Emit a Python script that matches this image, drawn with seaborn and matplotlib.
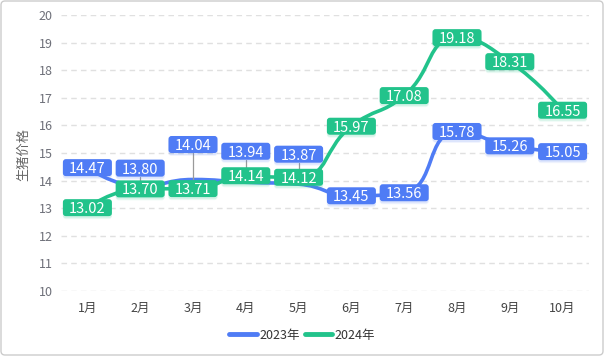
import numpy as np
import pandas as pd
import matplotlib
matplotlib.use('Agg')
import matplotlib.pyplot as plt
import seaborn as sns
from matplotlib.path import Path
from matplotlib.patches import PathPatch, FancyBboxPatch
from matplotlib.lines import Line2D
from matplotlib.transforms import IdentityTransform

# ---------------- data ----------------
months = ['1月', '2月', '3月', '4月', '5月', '6月', '7月', '8月', '9月', '10月']
series_names = ['2023年', '2024年']
price_2023 = [14.47, 13.80, 14.04, 13.94, 13.87, 13.45, 13.56, 15.78, 15.26, 15.05]
price_2024 = [13.02, 13.70, 13.71, 14.14, 14.12, 15.97, 17.08, 19.18, 18.31, 16.55]
y_ticks = [10, 11, 12, 13, 14, 15, 16, 17, 18, 19, 20]
y_title = '生猪价格'

# label layout (pixel shifts to avoid overlaps, like echarts moveOverlap)
label_shift_2023 = [0, 18, 35, 31, 30, 0, 0, 0, 0, 0]
label_shift_2024 = [0, 0, 0, 1, 0, 0, 0, 0, 0, 0]
colors = ['#4f7cf5', '#22c38b']

# ---------------- figure ----------------
sns.set_theme(style='white')
plt.rcParams['font.family'] = ['Noto Sans CJK SC', 'DejaVu Sans']

W, H = 604, 356
fig = plt.figure(figsize=(W / 100, H / 100), dpi=100)
fig.patch.set_facecolor('white')
ax = fig.add_axes([61 / W, 65 / H, 528 / W, 276 / H])

df = pd.DataFrame({
    'pos': list(range(len(months))) * 2,
    'price': price_2023 + price_2024,
    'series': [series_names[0]] * len(months) + [series_names[1]] * len(months),
})
sns.lineplot(data=df, x='pos', y='price', hue='series', palette=colors,
             linewidth=2.6, ax=ax, legend=False)
for ln in ax.lines:
    ln.set_visible(False)

ax.set_xlim(-0.5, len(months) - 0.5)
ax.set_ylim(y_ticks[0], y_ticks[-1])
ax.set_yticks(y_ticks)
ax.set_xticks(range(len(months)))
ax.set_xticklabels(months)
ax.set_xlabel('')
ax.set_ylabel('')
for s in ax.spines.values():
    s.set_visible(False)
ax.grid(axis='y', linestyle=(0, (4, 3)), color='#e0e0e0', linewidth=1)
ax.grid(axis='x', visible=False)
ax.tick_params(axis='y', length=0, pad=6, labelsize=9, labelcolor='#6e7079')
ax.tick_params(axis='x', length=0, pad=8, labelsize=9, labelcolor='#444444')


def smooth_path(pts, smooth=0.5):
    verts = [tuple(pts[0])]
    codes = [Path.MOVETO]
    cp0 = tuple(pts[0])
    n = len(pts)
    for i in range(1, n):
        x, y = pts[i]
        px, py = pts[i - 1]
        if i == n - 1:
            cp1 = (x, y)
            ncp0 = None
        else:
            nx, ny = pts[i + 1]
            vx, vy = nx - px, ny - py
            lp = np.hypot(x - px, y - py)
            lnn = np.hypot(nx - x, ny - y)
            r = lnn / (lnn + lp)
            ncx = x + vx * smooth * r
            ncy = y + vy * smooth * r
            ncx = max(min(ncx, max(nx, x)), min(nx, x))
            ncy = max(min(ncy, max(ny, y)), min(ny, y))
            vx, vy = ncx - x, ncy - y
            c1x = x - vx * lp / lnn
            c1y = y - vy * lp / lnn
            c1x = max(min(c1x, max(px, x)), min(px, x))
            c1y = max(min(c1y, max(py, y)), min(py, y))
            vx, vy = x - c1x, y - c1y
            ncx = x + vx * lnn / lp
            ncy = y + vy * lnn / lp
            cp1 = (c1x, c1y)
            ncp0 = (ncx, ncy)
        verts += [cp0, cp1, (x, y)]
        codes += [Path.CURVE4] * 3
        cp0 = ncp0
    return verts, codes


inv = ax.transData.inverted()
series = [price_2023, price_2024]
shifts = [label_shift_2023, label_shift_2024]

for vals, col in zip(series, colors):
    pts = ax.transData.transform(np.column_stack([np.arange(len(vals)), vals]))
    verts, codes = smooth_path(pts)
    verts_d = inv.transform(np.array(verts))
    ax.add_patch(PathPatch(Path(verts_d, codes), facecolor='none', edgecolor=col,
                           linewidth=2.6, zorder=3, capstyle='round', joinstyle='round'))

# labels
BW, BH = 49, 17
ident = IdentityTransform()
for vals, col, sh in zip(series, colors, shifts):
    pts = ax.transData.transform(np.column_stack([np.arange(len(vals)), vals]))
    for (cx, py), v, s in zip(pts, vals, sh):
        cy = py + s
        if s > 4:
            fig.add_artist(Line2D([cx, cx], [py, cy - BH / 2], color='#9a9a9a',
                                  linewidth=0.9, transform=ident, zorder=4))
        for k, a in [(3, 0.08), (2, 0.12)]:
            fig.add_artist(FancyBboxPatch((cx - BW / 2, cy - BH / 2 - k), BW, BH,
                                          boxstyle='round,pad=0,rounding_size=3',
                                          facecolor=col, edgecolor='none', alpha=a,
                                          transform=ident, zorder=5))
        fig.add_artist(FancyBboxPatch((cx - BW / 2, cy - BH / 2), BW, BH,
                                      boxstyle='round,pad=0,rounding_size=3',
                                      facecolor=col, edgecolor='none',
                                      transform=ident, zorder=6))
        fig.text(cx, cy, f'{v:.2f}', transform=ident, ha='center', va='center_baseline',
                 color='white', fontsize=10.5, zorder=7)

# y title
fig.text(24 / W, 1 - 154 / H, y_title, rotation=90, ha='center', va='center',
         fontsize=9.5, color='#666666')

# legend
handles = [Line2D([], [], color=c, linewidth=3.5) for c in colors]
fig.legend(handles, series_names, loc='center', bbox_to_anchor=(0.5, 1 - 335 / H),
           ncol=2, frameon=False, fontsize=9, handlelength=2.2, handletextpad=0.2,
           columnspacing=0.4, labelcolor='#333333')

# outer border
fig.add_artist(FancyBboxPatch((1, 1), W - 2, H - 2, boxstyle='round,pad=0,rounding_size=4',
                              facecolor='none', edgecolor='#cccccc', linewidth=1,
                              transform=ident, zorder=10))

fig.savefig('out.png', dpi=100, facecolor='white')
